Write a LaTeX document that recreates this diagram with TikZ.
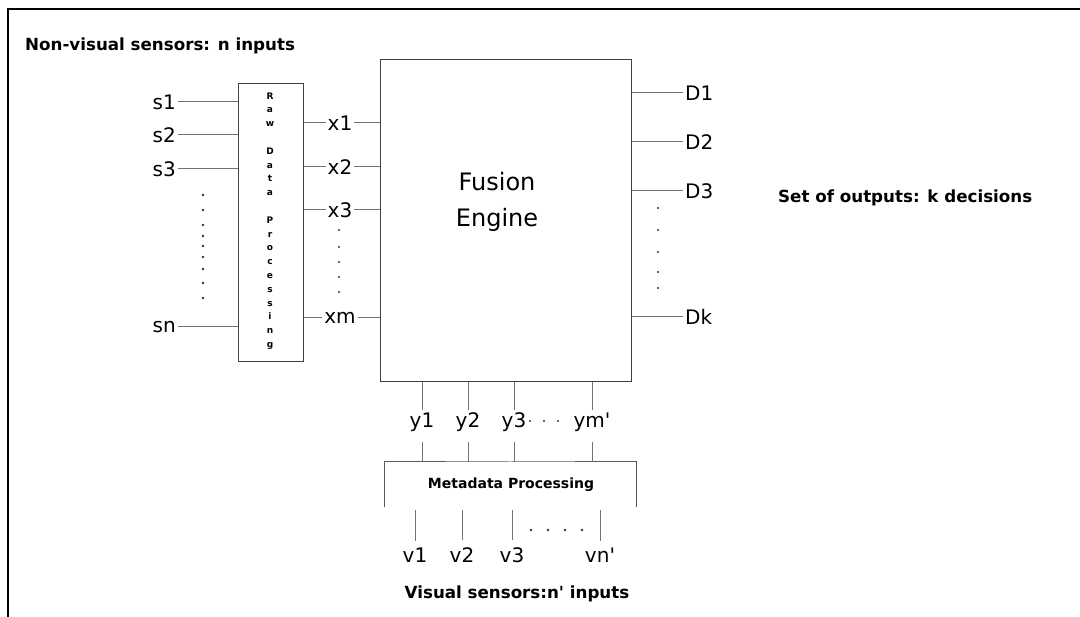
\documentclass[tikz,border=0pt]{standalone}
\usepackage{fontspec}
\setmainfont{DejaVu Sans}
\usetikzlibrary{positioning, calc}

\begin{document}
\begin{tikzpicture}[x=1pt, y=-1pt,
    block/.style={rectangle, draw=black!75, line width=1pt, inner sep=0pt},
    lbl/.style={font=\fontsize{20}{20}\selectfont, inner sep=2pt},
    note/.style={font=\fontsize{16.7}{16.7}\selectfont\bfseries, inner sep=0pt},
    wire/.style={draw=black!55, line width=1pt}
]
\useasboundingbox (0,0) rectangle (1080,617);
% frame
\draw[line width=1.2pt] (1080,9) -- (8,9) -- (8,617);

\node[note, anchor=west] (nvtitle) at (25,46) {Non-visual sensors: n inputs};
\node[note, anchor=west] (outtitle) at (778,198) {Set of outputs: k decisions};
\node[note] (vtitle) at (517,594) {Visual sensors:n\textquotesingle{} inputs};

% boxes
\node[block, minimum width=65, minimum height=278] (raw) at (270.5,223) {};
\node[font=\fontsize{9}{13.8}\selectfont\bfseries, align=center, inner sep=0pt] (rawtext) at (270,221)
    {R\\a\\w\\[13.8pt]D\\a\\t\\a\\[13.8pt]P\\r\\o\\c\\e\\s\\s\\i\\n\\g};
\node[block, minimum width=251, minimum height=322] (fusion) at (505.5,221) {};
\node[font=\fontsize{24}{36}\selectfont, align=center, inner sep=0pt] (fusiontext) at (497,202) {Fusion\\Engine};

% non-visual inputs
\foreach \nm/\t/\y in {s1/s1/102, s2/s2/135, s3/s3/169, sn/sn/327} {
    \node[lbl, anchor=east] (\nm) at (178,\y) {\t};
    \draw[wire] (\nm.east) -- (\nm -| raw.west);
}
\foreach \y in {195,210,225,236,246,257,269,283,298}
    \fill[black!80] (203,\y) circle (1.3pt);

% features
\foreach \nm/\t/\y in {x1/x1/123, x2/x2/167, x3/x3/210, xm/xm/318} {
    \node[lbl] (\nm) at (340,\y) {\t};
    \draw[wire] (\nm -| raw.east) -- (\nm.west);
    \draw[wire] (\nm.east) -- (\nm -| fusion.west);
}
\foreach \y in {230,247,262,277,292}
    \fill[black!80] (339,\y) circle (1.2pt);

% decisions
\foreach \nm/\t/\y in {d1/D1/93, d2/D2/142, d3/D3/191, dk/Dk/317} {
    \node[lbl, anchor=west] (\nm) at (683,\y) {\t};
    \draw[wire] (\nm -| fusion.east) -- (\nm.west);
}
\foreach \y in {208,230,252,272,288}
    \fill[black!80] (658,\y) circle (1.2pt);

% metadata
\coordinate (metaL) at (384,507);
\coordinate (metaR) at (636,507);
\coordinate (metatop) at (510,462);
\draw[wire, draw=black!65] (metaL) |- (metatop) -| (metaR);
\node[font=\fontsize{14}{14}\selectfont\bfseries] (meta) at (511,485) {Metadata Processing};

\foreach \nm/\t/\x in {y1/y1/422, y2/y2/468, y3/y3/514, ym/ym\textquotesingle/592} {
    \node[lbl] (\nm) at (\x,422) {\t};
    \draw[wire] (fusion.south -| \nm) -- (\nm.north);
    \draw[wire, shorten <=8pt] (\nm.south) -- (\nm |- metatop);
}
\foreach \x in {530,544,558}
    \fill[black!80] (\x,421) circle (1.2pt);

% visual inputs
\foreach \nm/\t/\x in {v1/v1/415, v2/v2/462, v3/v3/512, vn/vn\textquotesingle/600} {
    \node[lbl] (\nm) at (\x,555) {\t};
    \draw[wire, shorten <=3pt, shorten >=5pt] (\nm |- metaL) -- (\nm.north);
}
\foreach \x in {531,548,565,582}
    \fill[black!80] (\x,530) circle (1.3pt);
\end{tikzpicture}
\end{document}
